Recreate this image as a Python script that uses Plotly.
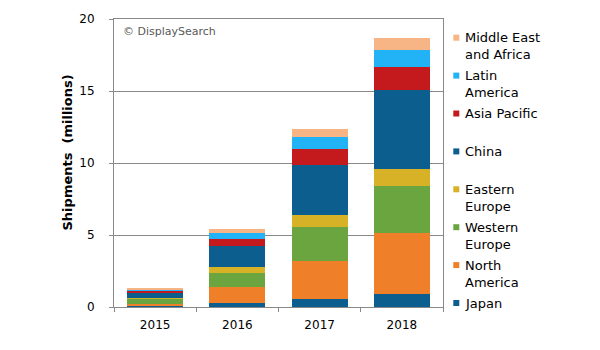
import plotly.graph_objects as go

years = ["2015", "2016", "2017", "2018"]
series_names = ["Japan", "North America", "Western Europe", "Eastern Europe",
                "China", "Asia Pacific", "Latin America", "Middle East and Africa"]
legend_labels = ["Japan", "North<br>America", "Western<br>Europe", "Eastern<br>Europe",
                 "China", "Asia Pacific", "Latin<br>America", "Middle East<br>and Africa"]
japan = [0.12, 0.28, 0.55, 0.88]
north_america = [0.12, 1.09, 2.63, 4.25]
western_europe = [0.35, 0.97, 2.37, 3.27]
eastern_europe = [0.06, 0.42, 0.83, 1.18]
china = [0.35, 1.46, 3.45, 5.50]
asia_pacific = [0.13, 0.49, 1.12, 1.60]
latin_america = [0.08, 0.42, 0.84, 1.18]
middle_east_africa = [0.11, 0.28, 0.60, 0.84]
series_values = [japan, north_america, western_europe, eastern_europe,
                 china, asia_pacific, latin_america, middle_east_africa]
colors = ["#0B5E8E", "#F07F29", "#6BA540", "#D7B227",
          "#0B5E8E", "#C41A1D", "#22B3F7", "#F7B585"]
y_ticks = [0, 5, 10, 15, 20]

# plot area in pixels
L, R, T, B = 114, 443, 19, 307
W, H = 600, 350


def px(x):
    return (x - L) / (R - L)


def py(y):
    return (B - y) / (B - T)


fig = go.Figure()
for name, vals, col in zip(series_names, series_values, colors):
    fig.add_trace(go.Bar(x=years, y=vals, name=name, marker_color=col,
                         marker_line_width=0, showlegend=False))

axis_col = "#898989"
font = dict(family="DejaVu Sans", size=12, color="#000000")
fig.update_layout(
    barmode="stack", bargap=0.32,
    width=W, height=H,
    margin=dict(l=L, r=W - R, t=T, b=H - B),
    paper_bgcolor="white", plot_bgcolor="white",
    font=font,
    xaxis=dict(showline=True, linecolor=axis_col, linewidth=1, mirror=True,
               ticks="outside", ticklen=4, tickcolor=axis_col, tickson="boundaries",
               showgrid=False, ticklabelstandoff=7, tickfont=font),
    yaxis=dict(range=[0, 20], tickvals=y_ticks, showline=True, linecolor=axis_col,
               linewidth=1, mirror=True, ticks="outside", ticklen=4, tickcolor=axis_col,
               showgrid=True, gridcolor=axis_col, gridwidth=1, zeroline=False,
               ticklabelstandoff=12, tickfont=font),
)

annotations = []
shapes = []
# y-axis title
annotations.append(dict(text="<b>Shipments\u00a0\u00a0(millions)</b>", textangle=-90,
                        x=px(67), y=py(152.5), xref="paper", yref="paper",
                        showarrow=False, xanchor="center", yanchor="middle",
                        font=dict(family="DejaVu Sans", size=13, color="#000000")))
# copyright
annotations.append(dict(text="© DisplaySearch", x=px(121), y=py(31.5), xref="paper",
                        yref="paper", showarrow=False, xanchor="left", yanchor="middle",
                        font=dict(family="DejaVu Sans", size=11, color="#595959")))
# legend (top to bottom = reverse stacking order)
first_y = 37.7
step = 37.9
for i, (lab, col) in enumerate(zip(legend_labels[::-1], colors[::-1])):
    yc = first_y + i * step
    shapes.append(dict(type="rect", xref="paper", yref="paper",
                       x0=px(453.3), x1=px(459.3), y0=py(yc + 3), y1=py(yc - 3),
                       fillcolor=col, line_width=0))
    for j, line in enumerate(lab.split("<br>")):
        annotations.append(dict(text=line, x=px(463), y=py(yc + j * 17), xref="paper",
                                yref="paper", showarrow=False, xanchor="left",
                                yanchor="middle",
                                font=dict(family="DejaVu Sans", size=13, color="#000000")))
fig.update_layout(annotations=annotations, shapes=shapes)

fig.write_html("out.html")
